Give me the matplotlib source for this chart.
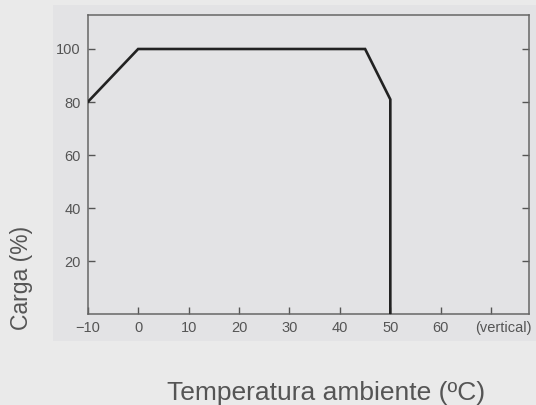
import matplotlib
matplotlib.use("Agg")
import matplotlib.pyplot as plt
from matplotlib.patches import Rectangle

# Data
temperature = [-10, 0, 45, 50, 50]
load = [80, 100, 100, 81, 0]
x_ticks = [-10, 0, 10, 20, 30, 40, 50, 60, 70]
x_tick_labels = ["\u221210", "0", "10", "20", "30", "40", "50", "60", ""]
y_ticks = [20, 40, 60, 80, 100]
y_tick_labels = ["20", "40", "60", "80", "100"]
extra_label = "(vertical)"
x_label = "Temperatura ambiente (ºC)"
y_label = "Carga (%)"

plt.rcParams["font.family"] = ["Liberation Sans", "DejaVu Sans"]

fig = plt.figure(figsize=(5.36, 4.05), dpi=100)
fig.patch.set_facecolor("#eaeaea")

# inner panel
fig.patches.append(Rectangle((0.099, 0.158), 0.91, 0.83, transform=fig.transFigure,
                             facecolor="#e3e3e5", edgecolor="none", zorder=-5))

ax = fig.add_axes([0.1636, 0.224, 0.987 - 0.1636, 0.9622 - 0.224])
ax.set_zorder(2)
ax.set_facecolor("#e3e3e5")
ax.plot(temperature, load, color="#222222", lw=1.9, solid_joinstyle="miter", zorder=3)

ax.set_xlim(-10, 77.5)
ax.set_ylim(0, 112.7)
ax.set_xticks(x_ticks)
ax.set_xticklabels(x_tick_labels)
ax.set_yticks(y_ticks)
ax.set_yticklabels(y_tick_labels)
ax.tick_params(axis="both", direction="in", length=5, width=1.0, color="#555555",
               labelsize=10.5, labelcolor="#555555", pad=5)
ax.tick_params(axis="y", right=True)
for s in ax.spines.values():
    s.set_color("#666666")
    s.set_linewidth(1.1)

ax.text(72.5, -0.024, extra_label, transform=ax.get_xaxis_transform(),
        ha="center", va="top", fontsize=10.5, color="#555555")

fig.text(0.608, 0.0123, x_label, ha="center", va="baseline", fontsize=19, color="#555555")
fig.text(0.041, 0.314, y_label, ha="center", va="center", rotation=90, fontsize=16.5,
         color="#555555")

fig.savefig("out.png", dpi=100, facecolor=fig.get_facecolor())
